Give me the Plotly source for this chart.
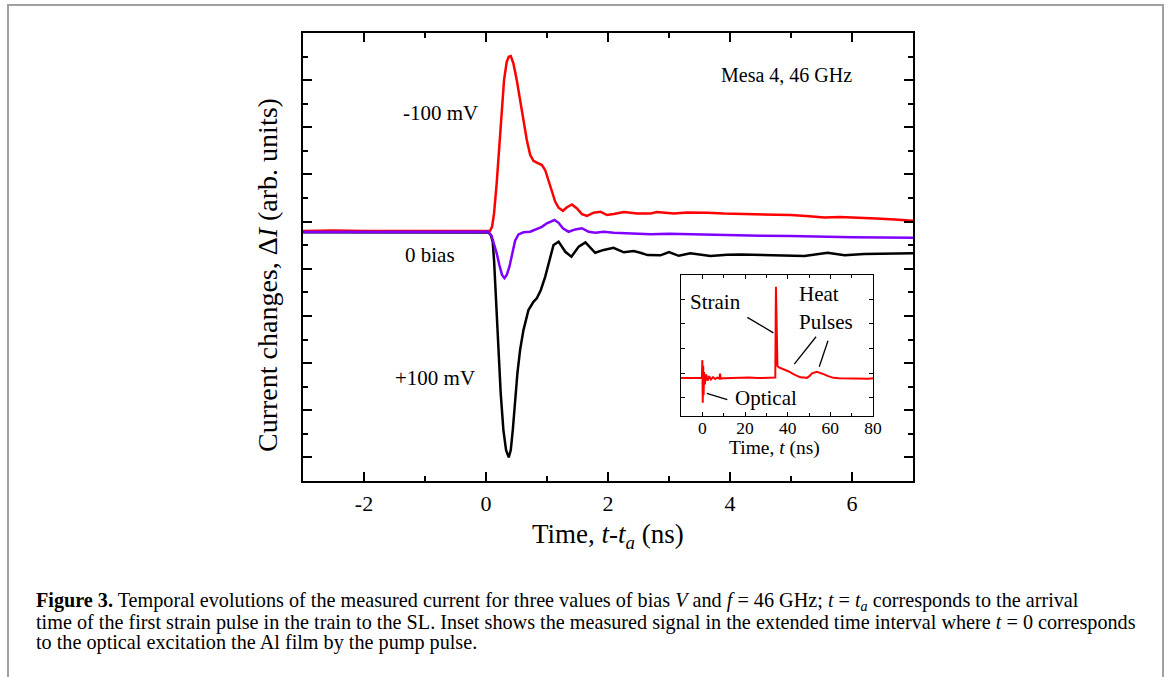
import plotly.graph_objects as go

# ---------------- data ----------------
# main panel: time t - t_a (ns), current change (arb. units)
t_neg = [-3.0, -2.5, -2.0, -1.5, -1.0, -0.5, 0.0, 0.066, 0.099, 0.132, 0.175, 0.219, 0.258, 0.296,
         0.340, 0.373, 0.406, 0.449, 0.504, 0.559, 0.614, 0.669, 0.724, 0.778, 0.833, 0.916,
         0.970, 1.025, 1.080, 1.135, 1.190, 1.261, 1.327, 1.409, 1.491, 1.573, 1.656, 1.765,
         1.875, 1.985, 2.094, 2.259, 2.478, 2.70, 2.80, 3.08, 3.30, 3.63, 3.90, 4.18, 4.50,
         4.75, 5.00, 5.30, 5.55, 5.80, 6.10, 6.40, 6.70, 7.00]
i_neg = [0.60, 0.62, 0.60, 0.61, 0.62, 0.62, 0.63, 0.61, 0.78, 1.35, 2.62, 4.18, 5.87, 7.01,
         7.78, 7.99, 8.02, 7.71, 7.01, 6.16, 5.31, 4.46, 3.83, 3.58, 3.50, 3.40,
         3.19, 2.76, 2.27, 1.84, 1.59, 1.46, 1.61, 1.73, 1.56, 1.32, 1.24, 1.38,
         1.42, 1.28, 1.32, 1.41, 1.35, 1.35, 1.41, 1.35, 1.39, 1.38, 1.34, 1.32, 1.32,
         1.31, 1.28, 1.23, 1.18, 1.20, 1.18, 1.13, 1.09, 1.04]

t_zero = [-3.0, -2.0, -1.0, 0.0, 0.038, 0.093, 0.132, 0.175, 0.219, 0.263, 0.302, 0.340, 0.384,
          0.428, 0.477, 0.532, 0.614, 0.724, 0.833, 0.916, 0.998, 1.124, 1.19, 1.261, 1.354,
          1.464, 1.573, 1.683, 1.793, 1.93, 2.094, 2.313, 2.53, 2.70, 3.0, 3.5, 4.0, 4.5,
          5.0, 5.5, 6.0, 6.5, 7.0]
i_zero = [0.56, 0.57, 0.56, 0.57, 0.57, 0.39, 0.08, -0.34, -0.84, -1.26, -1.40, -1.26, -0.91,
          -0.34, 0.19, 0.46, 0.55, 0.57, 0.67, 0.78, 0.93, 1.07, 0.95, 0.72, 0.57,
          0.67, 0.72, 0.57, 0.53, 0.57, 0.53, 0.50, 0.50, 0.47, 0.49, 0.45, 0.43, 0.40,
          0.39, 0.35, 0.34, 0.33, 0.32]

t_pos = [-3.0, -2.0, -1.0, 0.0, 0.04, 0.08, 0.110, 0.132, 0.164, 0.203, 0.241, 0.285, 0.329,
         0.373, 0.406, 0.439, 0.477, 0.515, 0.559, 0.614, 0.696, 0.778, 0.833, 0.899, 0.970,
         1.042, 1.107, 1.19, 1.30, 1.40, 1.52, 1.63, 1.79, 1.93, 2.09, 2.26, 2.42, 2.53, 2.65,
         2.86, 3.00, 3.16, 3.35, 3.68, 3.95, 4.18, 4.50, 4.85, 5.22, 5.60, 5.88, 6.20, 6.60, 7.00]
i_pos = [0.55, 0.55, 0.55, 0.55, 0.54, 0.43, 0.15, -0.63, -2.32, -4.44, -6.28, -7.84, -8.69,
         -9.00, -8.69, -7.84, -6.57, -5.43, -4.44, -3.60, -2.75, -2.40, -2.25, -1.90, -1.34,
         -0.56, 0.01, 0.15, -0.28, -0.49, -0.06, 0.12, -0.32, -0.20, -0.11, -0.30, -0.25, -0.32, -0.42,
         -0.43, -0.29, -0.45, -0.34, -0.46, -0.40, -0.39, -0.42, -0.44, -0.46, -0.32, -0.43, -0.37, -0.36, -0.34]

# inset: time t (ns), signal (arb. units)
t_inset = [-10, -5, -1, -0.2, 0.0, 0.2, 0.4, 0.6, 0.8, 1.2, 1.8, 2.5, 3.2, 4, 5, 6, 7, 8, 8.3, 8.6,
           10, 14, 18, 20, 22, 26, 30, 33, 34.2, 34.5, 34.8, 35.2, 35.7, 37, 38.8, 40.5, 42.7,
           44.5, 45.9, 47.5, 49, 50.2, 51.4, 53.7, 55.5, 56.8, 59, 61.5, 64, 67.8, 72, 75.6, 78, 80]
s_inset = [0.80, 0.79, 0.80, 0.81, 1.53, -0.20, 1.30, 0.10, 1.05, 0.55, 0.95, 0.70, 0.88, 0.74,
           0.84, 0.76, 0.82, 0.78, 0.98, 0.78, 0.79, 0.80, 0.81, 0.84, 0.82, 0.80, 0.80, 0.80,
           0.82, 4.51, 2.00, 1.30, 1.24, 1.20, 1.15, 1.07, 0.96, 0.90, 0.83, 0.82, 0.81, 0.88,
           0.99, 1.06, 1.02, 0.96, 0.88, 0.81, 0.79, 0.78, 0.77, 0.76, 0.77, 0.79]

main_xticks = [-2, 0, 2, 4, 6]
main_xticktext = ["-2", "0", "2", "4", "6"]
inset_xticks = [0, 20, 40, 60, 80]

# ---------------- layout helpers ----------------
W, H = 1170, 677
PL, PR, PT, PB = 303, 913, 33, 481   # main plot area in pixels


def px(x):
    return (x - PL) / (PR - PL)


def py(y):
    return (PB - y) / (PB - PT)


SERIF = "Liberation Serif, Times New Roman, serif"
RED = "#ff0000"
VIOLET = "#8000ff"

fig = go.Figure()
fig.add_trace(go.Scatter(x=t_neg, y=i_neg, mode="lines", line=dict(color=RED, width=2.5),
                         showlegend=False, hoverinfo="skip"))
fig.add_trace(go.Scatter(x=t_pos, y=i_pos, mode="lines", line=dict(color="black", width=2.5),
                         showlegend=False, hoverinfo="skip"))
fig.add_trace(go.Scatter(x=t_zero, y=i_zero, mode="lines", line=dict(color=VIOLET, width=2.5),
                         showlegend=False, hoverinfo="skip"))
fig.add_trace(go.Scatter(x=t_inset, y=s_inset, mode="lines", line=dict(color=RED, width=2),
                         xaxis="x2", yaxis="y2", showlegend=False, hoverinfo="skip"))

axis_common = dict(showline=True, linecolor="black", mirror="ticks", ticks="inside",
                   showgrid=False, zeroline=False, color="black")

fig.update_layout(
    width=W, height=H,
    margin=dict(l=PL, r=W - PR, t=PT, b=H - PB),
    paper_bgcolor="white", plot_bgcolor="white",
    font=dict(family=SERIF, color="black"),
    xaxis=dict(**axis_common, range=[-3, 7], tickvals=main_xticks, ticktext=main_xticktext,
               linewidth=2, ticklen=9, tickwidth=2, tickfont=dict(size=22, family=SERIF),
               minor=dict(dtick=1, tick0=0, ticklen=5, tickwidth=2, ticks="inside"),
               ticklabelstandoff=2),
    yaxis=dict(**axis_common, range=[-10, 9], dtick=2, tick0=1, linewidth=2,
               ticklen=9, tickwidth=2, showticklabels=False,
               minor=dict(dtick=1, tick0=0, ticklen=5, tickwidth=2, ticks="inside")),
    xaxis2=dict(**axis_common, domain=[px(681), px(873)], anchor="y2", range=[-10, 80],
                tickvals=inset_xticks, linewidth=1, ticklen=4, tickwidth=1,
                tickfont=dict(size=17.5, family=SERIF),
                minor=dict(dtick=10, tick0=0, ticklen=3, tickwidth=1, ticks="inside"),
                ticklabelstandoff=-4),
    yaxis2=dict(**axis_common, domain=[py(416), py(275)], anchor="x2", range=[-0.74, 4.99],
                dtick=1, tick0=0, linewidth=1, ticklen=4, tickwidth=1, showticklabels=False),
)

C = dict(showarrow=False, xanchor="center", yanchor="middle")
ann = []
# main panel labels
ann.append(dict(x=-0.74, y=5.61, xref="x", yref="y", text="-100 mV",
                font=dict(size=21, family=SERIF), **C))
ann.append(dict(x=-0.92, y=-0.42, xref="x", yref="y", text="0 bias",
                font=dict(size=21, family=SERIF), **C))
ann.append(dict(x=-0.84, y=-5.63, xref="x", yref="y", text="+100 mV",
                font=dict(size=21, family=SERIF), **C))
ann.append(dict(x=4.93, y=7.22, xref="x", yref="y", text="Mesa 4, 46 GHz",
                font=dict(size=20, family=SERIF), **C))
# axis titles
ann.append(dict(x=px(608), y=py(536), xref="paper", yref="paper",
                text="Time, <i>t</i>-<i>t</i><sub><i>a</i></sub> (ns)",
                font=dict(size=27, family=SERIF), **C))
ann.append(dict(x=px(267), y=py(275), xref="paper", yref="paper", textangle=-90,
                text="Current changes, Δ<i>I</i> (arb. units)",
                font=dict(size=28, family=SERIF), **C))
# inset labels
ann.append(dict(x=px(774), y=py(448), xref="paper", yref="paper",
                text="Time, <i>t</i> (ns)", font=dict(size=19.5, family=SERIF), **C))
ann.append(dict(x=6.0, y=3.90, xref="x2", yref="y2", text="Strain",
                font=dict(size=21, family=SERIF), **C))
ann.append(dict(x=54.8, y=4.20, xref="x2", yref="y2", text="Heat",
                font=dict(size=21, family=SERIF), **C))
ann.append(dict(x=58.0, y=3.08, xref="x2", yref="y2", text="Pulses",
                font=dict(size=21, family=SERIF), **C))
ann.append(dict(x=29.7, y=-0.01, xref="x2", yref="y2", text="Optical",
                font=dict(size=21, family=SERIF), **C))
# caption
cap = [
    "<b>Figure 3.</b> Temporal evolutions of the measured current for three values of bias <i>V</i> "
    "and <i>f</i> = 46 GHz; <i>t</i> = <i>t<sub>a</sub></i> corresponds to the arrival",
    "time of the first strain pulse in the train to the SL. Inset shows the measured signal in the "
    "extended time interval where <i>t</i> = 0 corresponds",
    "to the optical excitation the Al film by the pump pulse.",
]
for k, line in enumerate(cap):
    ann.append(dict(x=px(34), y=py(601.5 + 20.5 * k), xref="paper", yref="paper", text=line,
                    showarrow=False, xanchor="left", yanchor="middle",
                    font=dict(size=20.2, family=SERIF)))
fig.update_layout(annotations=ann)

shapes = []
# leader lines in the inset
for (x0, y0, x1, y1) in [(21.1, 3.27, 33.3, 2.64), (53.3, 2.48, 43.1, 1.37),
                         (58.9, 2.32, 54.8, 1.26), (2.1, 0.18, 11.7, -0.07)]:
    shapes.append(dict(type="line", xref="x2", yref="y2", x0=x0, y0=y0, x1=x1, y1=y1,
                       line=dict(color="black", width=1.3)))
# outer figure frame
shapes.append(dict(type="rect", xref="paper", yref="paper", x0=px(8), x1=px(1163),
                   y0=py(700), y1=py(5), line=dict(color="#a0a0a0", width=2), layer="below"))
fig.update_layout(shapes=shapes)

fig.write_html("out.html")
